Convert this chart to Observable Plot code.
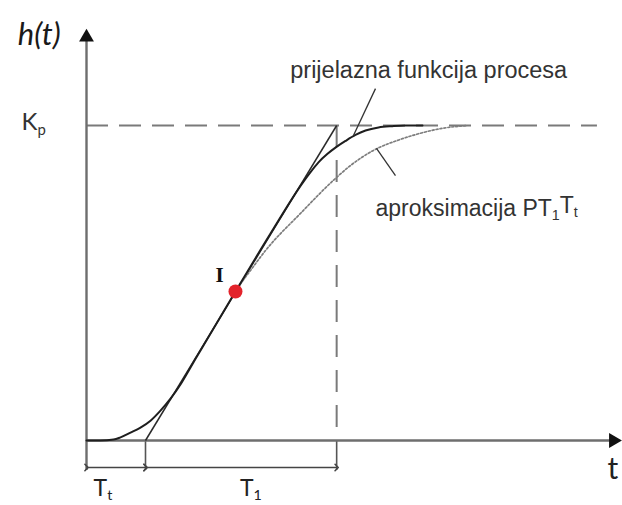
<!DOCTYPE html>
<html>
<head>
<meta charset="utf-8">
<script src="https://cdn.jsdelivr.net/npm/d3@7"></script>
<script src="https://cdn.jsdelivr.net/npm/@observablehq/plot@0.6"></script>
<style>
  html, body { margin: 0; padding: 0; background: #fff; }
  #chart svg { display: block; }
</style>
</head>
<body>
<div id="chart"></div>
<script>
// ---- values (t in units of Tt, h in units of Kp) ----
const Kp = 1;          // steady-state gain
const Tt = 1.0;        // dead time
const T1 = 3.24;       // time constant (tangent length)
const tI = 2.525, hI = 0.473;   // inflection point I
const tAxisEnd = 8.93, hAxisEnd = 1.28;
const kpLineEnd = 8.66;

// process step response (solid)
const processT = [0, 0.237, 0.458, 0.576, 0.746, 0.915, 1.085, 1.254, 1.424, 1.593, 1.763, 1.932, 2.525, 3.119, 3.678, 3.797, 3.932, 4.085, 4.237, 4.390, 4.559, 4.729, 4.949, 5.186, 5.407, 5.695];
const processH = [0, 0, 0.003, 0.010, 0.025, 0.041, 0.063, 0.095, 0.133, 0.178, 0.232, 0.286, 0.473, 0.657, 0.822, 0.852, 0.883, 0.910, 0.932, 0.951, 0.970, 0.984, 0.994, 0.998, 1.0, 1.0];

// PT1Tt approximation (dotted)
const approxT = [2.525, 2.780, 3.034, 3.627, 4.220, 4.475, 4.864, 5.322, 5.712, 6.0, 6.458];
const approxH = [0.476, 0.540, 0.603, 0.721, 0.832, 0.873, 0.921, 0.956, 0.978, 0.990, 1.0];

// labels
const labelProcess = "prijelazna funkcija procesa";
const labelApprox = "aproksimacija PT_1T_t";
const labelY = "h(t)";
const labelX = "t";
const labelKp = "K_p";
const labelTt = "T_t";
const labelT1 = "T_1";
const labelI = "I";

const processData = processT.map((t, i) => ({t, h: processH[i]}));
const approxData = approxT.map((t, i) => ({t, h: approxH[i]}));
const dimY = -0.0857, extBottom = -0.095;

const sans = "'Liberation Sans', Arial, sans-serif";
const label = "Lato, 'Noto Sans', sans-serif";

const chart = Plot.plot({
  width: 622,
  height: 505,
  margin: 0,
  x: {domain: [-86 / 59, 536 / 59], axis: null},
  y: {domain: [-65 / 315, 440 / 315], axis: null},
  style: {background: "#fff", overflow: "visible"},
  marks: [
    // Kp dashed level
    Plot.ruleY([Kp], {x1: 0, x2: kpLineEnd, stroke: "#7a7a7a", strokeWidth: 2, strokeDasharray: "22,11"}),
    // vertical dashed at Tt+T1
    Plot.ruleX([Tt + T1], {y1: Kp, y2: 0, stroke: "#7a7a7a", strokeWidth: 2, strokeDasharray: "22,13"}),
    // extension lines below the axis
    Plot.ruleX([Tt, Tt + T1], {y1: 0, y2: extBottom, stroke: "#555", strokeWidth: 1.6}),
    // axes
    Plot.ruleX([0], {y1: extBottom, y2: hAxisEnd, stroke: "#6e6e6e", strokeWidth: 2.4}),
    Plot.ruleY([0], {x1: 0, x2: tAxisEnd, stroke: "#6e6e6e", strokeWidth: 2.4}),
    Plot.dot([{t: 0, h: hAxisEnd}], {x: "t", y: "h", symbol: "triangle", r: 5.5, fill: "#111", stroke: "none"}),
    Plot.dot([{t: tAxisEnd, h: 0}], {x: "t", y: "h", symbol: "triangle", r: 5.5, fill: "#111", stroke: "none", rotate: 90}),
    // dimension arrows
    Plot.link([{a: 0, b: Tt}, {a: Tt, b: Tt + T1}], {x1: "a", x2: "b", y1: dimY, y2: dimY, stroke: "#444", strokeWidth: 1.6, markerStart: "arrow", markerEnd: "arrow"}),
    // tangent in the inflection point
    Plot.link([{a: Tt, b: Tt + T1}], {x1: "a", x2: "b", y1: 0, y2: Kp, stroke: "#2a2a2a", strokeWidth: 1.5}),
    // approximation (dotted)
    Plot.line(approxData, {x: "t", y: "h", curve: "monotone-x", stroke: "#7d7d7d", strokeWidth: 1.7, strokeDasharray: "2,2"}),
    // process response
    Plot.line(processData, {x: "t", y: "h", curve: "monotone-x", stroke: "#1e1e1e", strokeWidth: 2}),
    // leader lines
    Plot.link([{x1: 4.898, y1: 1.117, x2: 4.525, y2: 0.968}], {x1: "x1", y1: "y1", x2: "x2", y2: "y2", stroke: "#333", strokeWidth: 1.3}),
    Plot.link([{x1: 4.915, y1: 0.927, x2: 5.237, y2: 0.841}], {x1: "x1", y1: "y1", x2: "x2", y2: "y2", stroke: "#333", strokeWidth: 1.3}),
    // inflection point
    Plot.dot([{t: tI, h: hI}], {x: "t", y: "h", r: 7, fill: "#e3232b", stroke: "none"}),
    Plot.text([labelI], {x: 2.254, y: 0.523, text: d => d, fontFamily: "'Liberation Serif', serif", fontWeight: "bold", fontSize: 21, fill: "#111"}),
    // texts
    Plot.text([labelProcess], {x: 5.80, y: 1.175, text: d => d, fontFamily: sans, fontSize: 23.5, fill: "#333"}),
    Plot.text([labelApprox], {x: 4.898, y: 0.737, text: d => d, textAnchor: "start", fontFamily: sans, fontSize: 23, fill: "#333"}),
    Plot.text([labelY], {x: -0.80, y: 1.288, text: d => d, fontFamily: label, fontStyle: "italic", fontSize: 31, fill: "#1a1a1a"}),
    Plot.text([labelKp], {x: -1.1, y: 1.01, text: d => d, textAnchor: "start", fontFamily: label, fontSize: 24, fill: "#333"}),
    Plot.text([labelX], {x: 8.92, y: -0.092, text: d => d, fontFamily: label, fontSize: 30, fill: "#222"}),
    Plot.text([labelTt], {x: 0.12, y: -0.152, text: d => d, textAnchor: "start", fontFamily: label, fontSize: 23, fill: "#222"}),
    Plot.text([labelT1], {x: 2.60, y: -0.152, text: d => d, textAnchor: "start", fontFamily: label, fontSize: 23, fill: "#222"})
  ]
});

// turn "X_s" into real subscripts
d3.select(chart).selectAll("text").each(function () {
  const s = this.textContent;
  if (!s.includes("_")) return;
  const el = d3.select(this);
  el.text(null);
  const parts = s.split(/_(\w)/);
  parts.forEach((p, i) => {
    if (!p) return;
    if (i % 2 === 0) {
      el.append("tspan").attr("dy", i > 0 ? "-0.3em" : null).text(p);
    } else {
      el.append("tspan").attr("dy", "0.3em").attr("font-size", "62%").text(p);
    }
  });
});

document.getElementById("chart").append(chart);
</script>
</body>
</html>
